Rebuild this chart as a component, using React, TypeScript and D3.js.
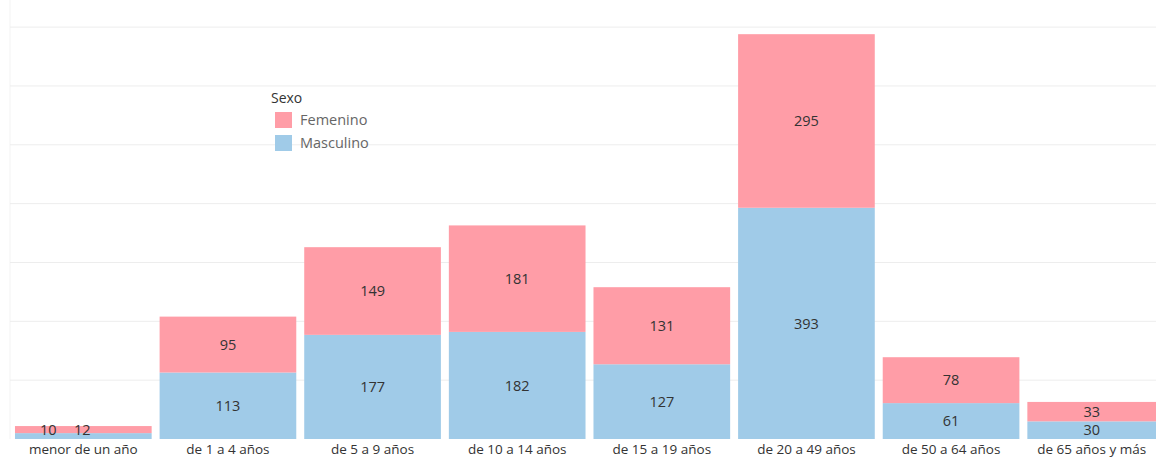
import React from "react";
import * as d3 from "d3";

const categories = [
  "menor de un año",
  "de 1 a 4 años",
  "de 5 a 9 años",
  "de 10 a 14 años",
  "de 15 a 19 años",
  "de 20 a 49 años",
  "de 50 a 64 años",
  "de 65 años y  más",
];
const masculino = [10, 113, 177, 182, 127, 393, 61, 30];
const femenino = [12, 95, 149, 181, 131, 295, 78, 33];
const gridTicks = [100, 200, 300, 400, 500, 600, 700];
const legendTitle = "Sexo";
const seriesNames = ["Femenino", "Masculino"];

const W = 1156;
const H = 459;
const colors = { Femenino: "#ff9da7", Masculino: "#a0cbe8" };
const font = "'Open Sans', 'Noto Sans', sans-serif";

export default function App() {
  const x = d3.scaleBand<string>().domain(categories).range([11, 1168]).paddingInner(0.055).paddingOuter(0.0275);
  const y = d3.scaleLinear().domain([0, 724]).range([439, 13]);
  const bw = x.bandwidth();

  return (
    <svg width={W} height={H} style={{ position: "absolute", left: 0, top: 0, background: "#fff" }}>
      <line x1={10} x2={10} y1={0} y2={439} stroke="#f3f3f3" strokeWidth={1} />
      {gridTicks.map((t) => (
        <line key={t} x1={10} x2={W} y1={y(t)} y2={y(t)} stroke="#ededed" strokeWidth={1} />
      ))}
      {categories.map((c, i) => {
        const x0 = x(c)!;
        const x1 = Math.min(x0 + bw, W);
        const cx = (x0 + x1) / 2;
        const m = masculino[i];
        const f = femenino[i];
        const small = i === 0;
        return (
          <g key={c}>
            <rect x={x0} width={bw} y={y(m)} height={y(0) - y(m)} fill={colors.Masculino} />
            <rect x={x0} width={bw} y={y(m + f)} height={y(m) - y(m + f)} fill={colors.Femenino} />
            {small ? (
              <>
                <text x={cx - 35} y={y(m + f / 2)} dy="0.36em" textAnchor="middle" fontSize={14.5} fill="#333" fontFamily={font}>{m}</text>
                <text x={cx - 1} y={y(m + f / 2)} dy="0.36em" textAnchor="middle" fontSize={14.5} fill="#333" fontFamily={font}>{f}</text>
              </>
            ) : (
              <>
                <text x={cx} y={(y(0) + y(m)) / 2} dy="0.36em" textAnchor="middle" fontSize={14.5} fill="#333" fontFamily={font}>{m}</text>
                <text x={cx} y={(y(m) + y(m + f)) / 2} dy="0.36em" textAnchor="middle" fontSize={14.5} fill="#333" fontFamily={font}>{f}</text>
              </>
            )}
            <text x={cx} y={454} textAnchor="middle" fontSize={13.5} fill="#333" fontFamily={font}>{c}</text>
          </g>
        );
      })}
      <g fontFamily={font}>
        <text x={271} y={103} fontSize={14} fill="#333">{legendTitle}</text>
        {seriesNames.map((s, i) => (
          <g key={s}>
            <rect x={275} y={112 + i * 23} width={17} height={16} fill={colors[s as keyof typeof colors]} />
            <text x={300} y={125 + i * 23} fontSize={14.5} fill="#666">{s}</text>
          </g>
        ))}
      </g>
    </svg>
  );
}
